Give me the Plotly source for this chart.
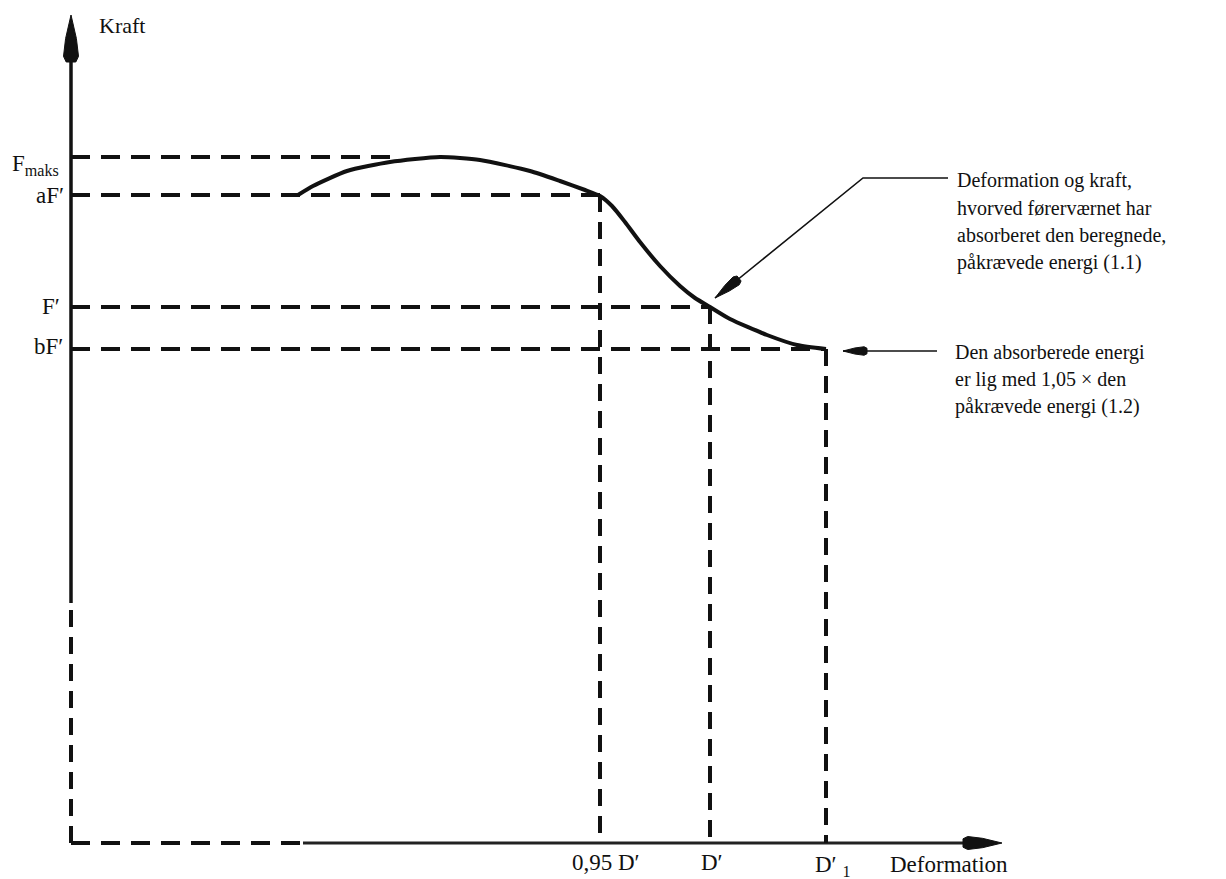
import math
import plotly.graph_objects as go

# ---------------- data (arbitrary deformation / force units) ----------------
# force-deformation curve
curve_x = [22.7, 24.2, 27.6, 31.9, 36.9, 40.9, 45.9, 48.9, 51.4, 52.9, 54.1, 55.4, 56.9, 58.9,
           60.9, 62.4, 63.9, 65.9, 69.6, 72.6, 75.5]
curve_y = [64.8, 65.7, 67.2, 68.1, 68.6, 68.3, 67.2, 66.2, 65.3, 64.7, 63.7, 62.1, 60.1, 57.7,
           55.7, 54.5, 53.6, 52.4, 50.8, 49.8, 49.4]

# force levels (y) and their labels
force_levels = [68.6, 64.8, 53.6, 49.4]
force_labels = ["F<sub>maks</sub>", "aF′", "F′", "bF′"]
force_line_ends = [32.6, 52.9, 63.9, 75.5]   # where each dashed guide meets the curve

# deformation marks (x) and their labels
deform_marks = [52.9, 63.9, 75.5]
deform_tops = [64.8, 53.6, 49.4]
deform_labels = ["0,95 D′", "D′", "D′ <sub>1</sub>"]

# axes
y_axis_top = 82.8
x_axis_end = 93.1
y_axis_dash_end = 24.0
x_axis_dash_end = 23.2
y_axis_title = "Kraft"
x_axis_title = "Deformation"

# callouts
callout1_path_x = [64.4, 79.2, 87.7]
callout1_path_y = [54.5, 66.5, 66.5]
callout1_lines = ["Deformation og kraft,", "hvorved førerværnet har",
                  "absorberet den beregnede,", "påkrævede energi (1.1)"]
callout2_path_x = [77.2, 86.6]
callout2_path_y = [49.2, 49.2]
callout2_lines = ["Den absorberede energi", "er lig med 1,05 × den", "påkrævede energi (1.2)"]

# ---------------- styling ----------------
FONT = "Liberation Serif"
FS = 20          # callout text
FS_AX = 23       # axis labels
INK = "#111111"
DASH = "19px,11px"
VDASH = "17px,10px"

fig = go.Figure()
shapes = []
annotations = []


def spear(tx, ty, dx, dy, L, W):
    n = math.hypot(dx, dy)
    ux, uy = dx / n, dy / n
    bx, by = -ux, -uy
    px, py = -uy, ux
    prof = [(0, 0), (0.5, 0.36), (0.88, 0.5), (1.0, 0.32), (1.0, -0.32), (0.88, -0.5), (0.5, -0.36)]
    pts = [(tx + bx * a * L + px * b * W, ty + by * a * L + py * b * W) for a, b in prof]
    d = "M " + " L ".join(f"{x:.3f},{y:.3f}" for x, y in pts) + " Z"
    return dict(type="path", path=d, xref="x", yref="y", fillcolor=INK,
                line=dict(color=INK, width=1), layer="above")


# y axis: dashed lower part, solid upper part, arrow head
shapes.append(dict(type="line", xref="x", yref="y", x0=0, y0=0, x1=0, y1=y_axis_dash_end,
                   line=dict(color=INK, width=4, dash=VDASH)))
shapes.append(dict(type="line", xref="x", yref="y", x0=0, y0=y_axis_dash_end, x1=0, y1=y_axis_top - 4.2,
                   line=dict(color=INK, width=3.5)))
shapes.append(spear(0, y_axis_top, 0, 1, 4.7, 1.5))

# x axis: dashed left part, solid right part, arrow head
shapes.append(dict(type="line", xref="x", yref="y", x0=0, y0=0, x1=x_axis_dash_end, y1=0,
                   line=dict(color=INK, width=4, dash=DASH)))
shapes.append(dict(type="line", xref="x", yref="y", x0=x_axis_dash_end, y0=0, x1=x_axis_end - 3.6, y1=0,
                   line=dict(color="#222222", width=3)))
shapes.append(spear(x_axis_end, 0, 1, 0, 3.9, 1.3))

# horizontal dashed guides
for lvl, xe in zip(force_levels, force_line_ends):
    shapes.append(dict(type="line", xref="x", yref="y", x0=0, y0=lvl, x1=xe, y1=lvl,
                       line=dict(color=INK, width=4, dash=DASH)))

# vertical dashed guides
for xm, top in zip(deform_marks, deform_tops):
    shapes.append(dict(type="line", xref="x", yref="y", x0=xm, y0=top, x1=xm, y1=0,
                       line=dict(color=INK, width=4, dash=VDASH)))

# the curve
fig.add_trace(go.Scatter(x=curve_x, y=curve_y, mode="lines",
                         line=dict(color=INK, width=4, shape="spline", smoothing=0.6),
                         hoverinfo="skip", showlegend=False, cliponaxis=False))

# callout leader lines
fig.add_trace(go.Scatter(x=callout1_path_x, y=callout1_path_y, mode="lines",
                         line=dict(color=INK, width=1.6), hoverinfo="skip", showlegend=False))
fig.add_trace(go.Scatter(x=callout2_path_x, y=callout2_path_y, mode="lines",
                         line=dict(color=INK, width=1.6), hoverinfo="skip", showlegend=False))
shapes.append(spear(callout1_path_x[0], callout1_path_y[0],
                    callout1_path_x[0] - callout1_path_x[1], callout1_path_y[0] - callout1_path_y[1], 3.1, 1.0))
shapes.append(spear(callout2_path_x[0], callout2_path_y[0],
                    callout2_path_x[0] - callout2_path_x[1], 0, 2.4, 0.85))


def txt(x, y, s, xanchor="center", yanchor="middle", size=FS):
    annotations.append(dict(x=x, y=y, xref="x", yref="y", text=s, showarrow=False,
                            xanchor=xanchor, yanchor=yanchor,
                            font=dict(family=FONT, size=size, color=INK)))


txt(2.6, 81.8, y_axis_title, xanchor="left", size=22)

label_right = [-1.0, -0.5, -0.9, -0.6]
label_dy = [-0.8, 0.0, 0.1, 0.3]
for lvl, lab, xr, dy in zip(force_levels, force_labels, label_right, label_dy):
    txt(xr, lvl + dy, lab, xanchor="right", size=FS_AX)

label_dx = [0.6, 0.2, 0.6]
label_dy2 = [-1.9, -1.9, -2.3]
for xm, lab, ddx, dy in zip(deform_marks, deform_labels, label_dx, label_dy2):
    txt(xm + ddx, dy, lab, size=FS_AX)
txt(81.7, -3.55, x_axis_title, xanchor="left", yanchor="bottom", size=FS_AX)

for i, line in enumerate(callout1_lines):
    txt(88.4, 66.3 - i * 2.75, line, xanchor="left")
for i, line in enumerate(callout2_lines):
    txt(88.2, 49.1 - i * 2.72, line, xanchor="left")

fig.update_layout(
    width=1226, height=879,
    margin=dict(l=0, r=0, t=0, b=0),
    paper_bgcolor="white", plot_bgcolor="white",
    xaxis=dict(range=[-7.1, 115.5], visible=False, fixedrange=True),
    yaxis=dict(range=[-3.6, 84.3], visible=False, fixedrange=True),
    shapes=shapes, annotations=annotations, showlegend=False,
)

fig.write_html("out.html", config={"displayModeBar": False},
               post_script="document.body.style.margin='0';document.body.style.overflow='hidden';")
